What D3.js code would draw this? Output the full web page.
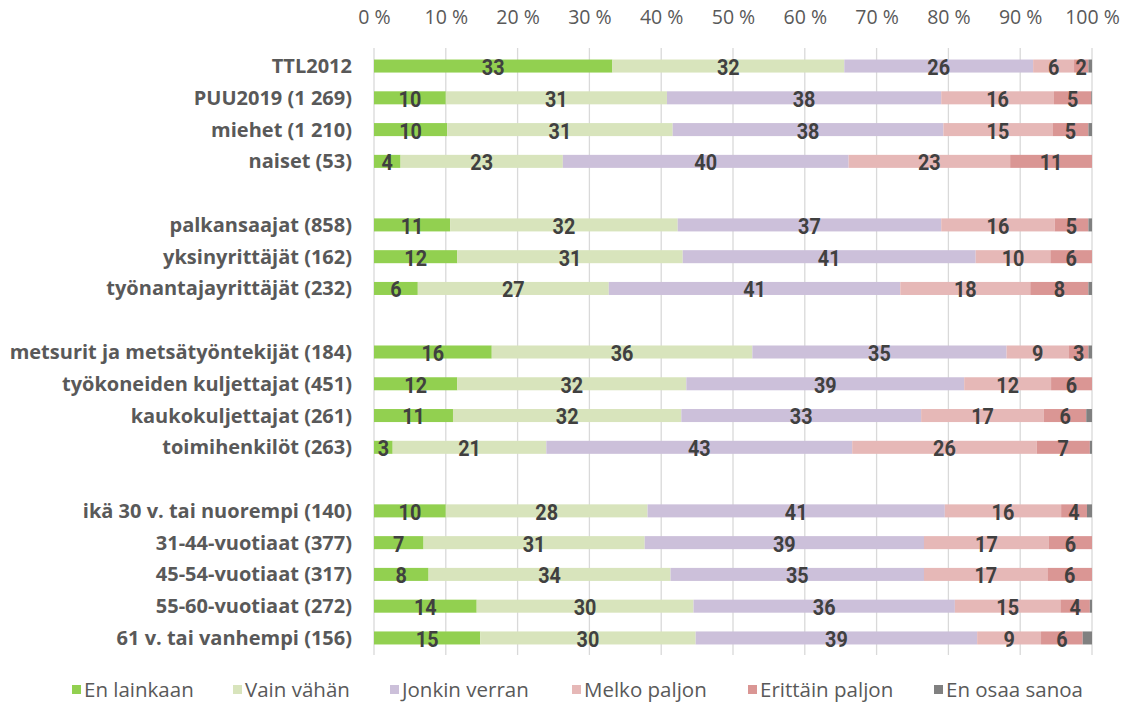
<!DOCTYPE html>
<html>
<head>
<meta charset="utf-8">
<script src="https://cdn.jsdelivr.net/npm/d3@7"></script>
<style>
  body { margin: 0; background: #fff; }
  svg { display: block; }
  .cat { font-family: "Open Sans", "Noto Sans", sans-serif; font-weight: bold; font-size: 20px; fill: #595959; }
  .tick text { font-family: "Open Sans", "Noto Sans", sans-serif; font-size: 19.5px; fill: #595959; }
  .val { font-family: Roboto, "Open Sans", sans-serif; font-weight: bold; font-size: 22px; fill: #404040; }
  .legend text { font-family: "Open Sans", "Noto Sans", sans-serif; font-size: 20.5px; fill: #595959; }
</style>
</head>
<body>
<div id="chart"></div>
<script>
// rows (empty string = gap between groups)
const categories = [
  'TTL2012', 'PUU2019 (1 269)', 'miehet (1 210)', 'naiset (53)', '',
  'palkansaajat (858)', 'yksinyrittäjät (162)', 'työnantajayrittäjät (232)', '',
  'metsurit ja metsätyöntekijät (184)', 'työkoneiden kuljettajat (451)', 'kaukokuljettajat (261)', 'toimihenkilöt (263)', '',
  'ikä 30 v. tai nuorempi (140)', '31-44-vuotiaat (377)', '45-54-vuotiaat (317)', '55-60-vuotiaat (272)', '61 v. tai vanhempi (156)'
];

const seriesNames = ['En lainkaan', 'Vain vähän', 'Jonkin verran', 'Melko paljon', 'Erittäin paljon', 'En osaa sanoa'];
const seriesColors = ['#92d050', '#d8e4bc', '#ccc0da', '#e6b8b7', '#da9694', '#808080'];

// per series, one value per row (null for gap rows)
const enLainkaan     = [33.2, 10.0, 10.2, 3.7, null, 10.6, 11.6, 6.1, null, 16.4, 11.6, 11.0, 2.6, null, 10.0, 6.9, 7.6, 14.3, 14.8];
const vainVahan      = [32.3, 30.8, 31.4, 22.6, null, 31.7, 31.4, 26.6, null, 36.3, 31.9, 31.8, 21.4, null, 28.1, 30.8, 33.7, 30.2, 30.0];
const jonkinVerran   = [26.3, 38.2, 37.7, 39.8, null, 36.7, 40.8, 40.6, null, 35.4, 38.7, 33.4, 42.6, null, 41.4, 38.9, 35.3, 36.4, 39.2];
const melkoPaljon    = [5.7, 15.7, 15.2, 22.5, null, 15.8, 10.4, 18.1, null, 8.7, 12.1, 17.1, 25.7, null, 16.2, 17.4, 17.2, 14.7, 8.9];
const erittainPaljon = [2.0, 5.2, 5.0, 11.4, null, 4.7, 5.8, 8.1, null, 2.7, 5.7, 5.9, 7.4, null, 3.6, 6.0, 6.2, 4.1, 5.8];
const enOsaaSanoa    = [0.5, 0.1, 0.5, 0.0, null, 0.5, 0.0, 0.5, null, 0.5, 0.0, 0.8, 0.3, null, 0.7, 0.0, 0.0, 0.3, 1.3];

const seriesValues = [enLainkaan, vainVahan, jonkinVerran, melkoPaljon, erittainPaljon, enOsaaSanoa];
const tickValues = [0, 10, 20, 30, 40, 50, 60, 70, 80, 90, 100];

const W = 1128, H = 705;
const margin = { top: 50, right: 36, bottom: 51, left: 374 };

const svg = d3.select('#chart').append('svg')
  .attr('width', W)
  .attr('height', H);

const rowKeys = categories.map((c, i) => i);

const x = d3.scaleLinear()
  .domain([0, 100])
  .range([margin.left, W - margin.right]);

const y = d3.scaleBand()
  .domain(rowKeys)
  .range([margin.top, H - margin.bottom])
  .paddingInner(0.59)
  .paddingOuter(0.3);

// gridlines
svg.append('g')
  .selectAll('line')
  .data(tickValues)
  .join('line')
  .attr('x1', d => x(d)).attr('x2', d => x(d))
  .attr('y1', margin.top - 2).attr('y2', H - margin.bottom + 1)
  .attr('stroke', '#d9d9d9')
  .attr('stroke-width', 1.3);

// top axis labels
const axis = svg.append('g')
  .attr('transform', `translate(0,${margin.top - 23})`)
  .call(d3.axisTop(x).tickValues(tickValues).tickSize(0).tickFormat(d => d + ' %'));
axis.select('.domain').remove();

// stacked data
const rows = rowKeys.filter(i => categories[i] !== '').map(i => {
  let acc = 0;
  const segs = seriesValues.map((vals, s) => {
    const v = vals[i];
    const seg = { row: i, s, x0: acc, x1: acc + v, v };
    acc += v;
    return seg;
  });
  return { row: i, segs };
});

const barGroups = svg.append('g').selectAll('g')
  .data(rows)
  .join('g');

barGroups.selectAll('rect')
  .data(d => d.segs)
  .join('rect')
  .attr('x', d => x(d.x0))
  .attr('width', d => Math.max(0, x(d.x1) - x(d.x0)))
  .attr('y', d => y(d.row))
  .attr('height', y.bandwidth())
  .attr('fill', d => seriesColors[d.s]);

// value labels, slightly condensed like the original
barGroups.selectAll('text.val')
  .data(d => d.segs.filter(s => s.s < 5 && s.v >= 1.5))
  .join('text')
  .attr('class', 'val')
  .attr('transform', d => `translate(${x((d.x0 + d.x1) / 2)},${y(d.row) + y.bandwidth() / 2 + 1}) scale(0.9,1)`)
  .attr('dy', '0.36em')
  .attr('text-anchor', 'middle')
  .text(d => Math.round(d.v));

// category labels
svg.append('g').selectAll('text')
  .data(rows)
  .join('text')
  .attr('class', 'cat')
  .attr('x', margin.left - 22)
  .attr('y', d => y(d.row) + y.bandwidth() / 2)
  .attr('dy', '0.35em')
  .attr('text-anchor', 'end')
  .text(d => categories[d.row]);

// legend
const legend = svg.append('g').attr('class', 'legend');
const legendStarts = [72, 233, 390, 572, 748, 934];
const item = legend.selectAll('g')
  .data(seriesNames)
  .join('g')
  .attr('transform', (d, i) => `translate(${legendStarts[i]},${H - 7})`);
item.append('rect')
  .attr('x', 0).attr('y', -13)
  .attr('width', 9).attr('height', 9)
  .attr('fill', (d, i) => seriesColors[i]);
item.append('text')
  .attr('x', 12).attr('y', -8.5)
  .attr('dy', '0.35em')
  .text(d => d);
</script>
</body>
</html>
